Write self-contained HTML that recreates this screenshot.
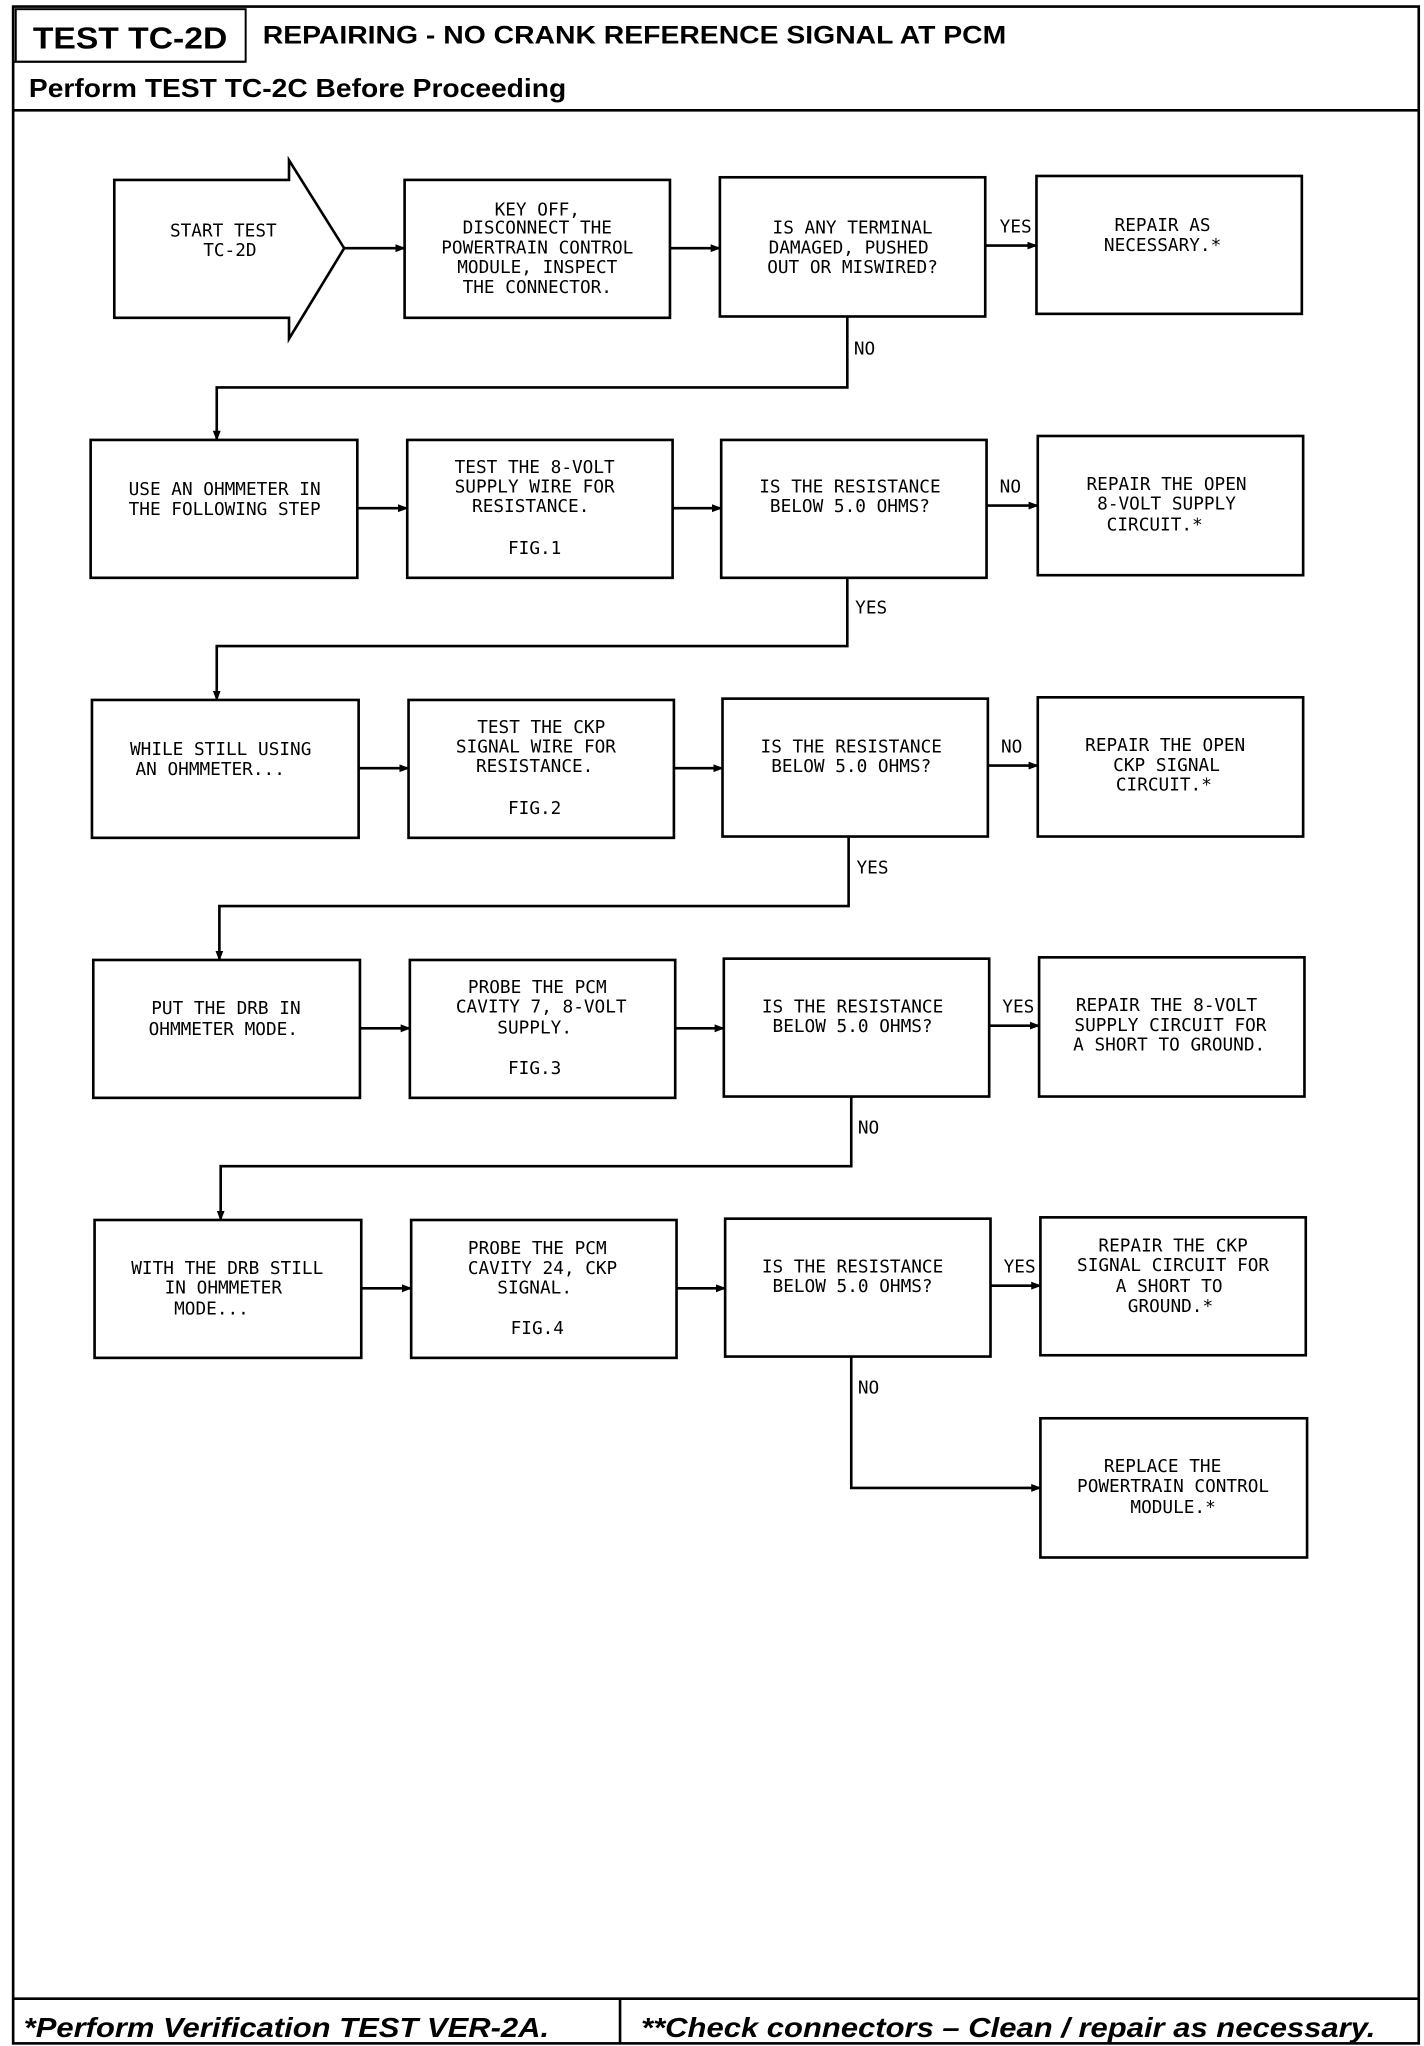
<!DOCTYPE html>
<html><head><meta charset="utf-8"><style>
html,body{margin:0;padding:0;background:#fff}
svg{display:block}
.t{font-family:"DejaVu Sans Mono","Liberation Mono",monospace;font-size:13.5px;fill:#000;text-anchor:middle}
.l{font-family:"DejaVu Sans Mono","Liberation Mono",monospace;font-size:13.5px;fill:#000}
.b{fill:#fff;stroke:#000;stroke-width:2}
.c{fill:none;stroke:#000;stroke-width:2}
.h{font-family:"Liberation Sans",sans-serif;font-weight:bold;fill:#000}
</style></head><body>
<svg width="1424" height="2046" viewBox="0 0 1084 1558" preserveAspectRatio="none" xmlns="http://www.w3.org/2000/svg">
<defs><marker id="a" markerWidth="8" markerHeight="8" refX="7" refY="4" orient="auto" markerUnits="userSpaceOnUse"><path d="M0,1 L8,4 L0,7 z" fill="#000"/></marker></defs>
<rect x="10" y="5" width="1070" height="1551" fill="none" stroke="#000" stroke-width="2"/>
<rect x="12" y="7" width="175" height="40" fill="none" stroke="#000" stroke-width="1.5"/>
<line x1="10" y1="47" x2="187" y2="47" stroke="#000" stroke-width="1.5"/>
<text class="h" x="25" y="37" font-size="23" textLength="148" lengthAdjust="spacingAndGlyphs">TEST TC-2D</text>
<text class="h" x="200" y="33" font-size="19" textLength="566" lengthAdjust="spacingAndGlyphs">REPAIRING - NO CRANK REFERENCE SIGNAL AT PCM</text>
<text class="h" x="22" y="74" font-size="20" textLength="409" lengthAdjust="spacingAndGlyphs">Perform TEST TC-2C Before Proceeding</text>
<line x1="10" y1="84" x2="1080" y2="84" stroke="#000" stroke-width="2"/>
<line x1="10" y1="1522" x2="1080" y2="1522" stroke="#000" stroke-width="2"/>
<line x1="472" y1="1522" x2="472" y2="1556" stroke="#000" stroke-width="2"/>
<text class="h" x="18" y="1551" font-size="21" font-style="italic" textLength="400" lengthAdjust="spacingAndGlyphs">*Perform Verification TEST VER-2A.</text>
<text class="h" x="488" y="1551" font-size="21" font-style="italic" textLength="559" lengthAdjust="spacingAndGlyphs">**Check connectors – Clean / repair as necessary.</text>

<!-- Row 1 -->
<path class="b" d="M87,137 L220,137 L220,122 L262,189 L220,258 L220,242 L87,242 Z"/>
<text class="t" x="170" y="180">START TEST</text><text class="t" x="175" y="195">TC-2D</text>
<rect class="b" x="308" y="137" width="202" height="105"/>
<text class="t" x="409" y="164">KEY OFF,</text><text class="t" x="409" y="178">DISCONNECT THE</text><text class="t" x="409" y="193">POWERTRAIN CONTROL</text><text class="t" x="409" y="208">MODULE, INSPECT</text><text class="t" x="409" y="223">THE CONNECTOR.</text>
<rect class="b" x="548" y="135" width="202" height="106"/>
<text class="t" x="649" y="178">IS ANY TERMINAL</text><text class="t" x="646" y="193">DAMAGED, PUSHED</text><text class="t" x="649" y="208">OUT OR MISWIRED?</text>
<rect class="b" x="789" y="134" width="202" height="105"/>
<text class="t" x="885" y="176">REPAIR AS</text><text class="t" x="885" y="191">NECESSARY.*</text>
<line class="c" x1="262" y1="189" x2="308" y2="189" marker-end="url(#a)"/>
<line class="c" x1="510" y1="189" x2="548" y2="189" marker-end="url(#a)"/>
<line class="c" x1="750" y1="187" x2="789" y2="187" marker-end="url(#a)"/>
<text class="l" x="761" y="177">YES</text>
<polyline class="c" points="645,241 645,295 165,295 165,335" marker-end="url(#a)"/>
<text class="l" x="650" y="270">NO</text>

<!-- Row 2 -->
<rect class="b" x="69" y="335" width="203" height="105"/>
<text class="t" x="171" y="377">USE AN OHMMETER IN</text><text class="t" x="171" y="392">THE FOLLOWING STEP</text>
<rect class="b" x="310" y="335" width="202" height="105"/>
<text class="t" x="407" y="360">TEST THE 8-VOLT</text><text class="t" x="407" y="375">SUPPLY WIRE FOR</text><text class="t" x="404" y="390">RESISTANCE.</text><text class="t" x="407" y="422">FIG.1</text>
<rect class="b" x="549" y="335" width="202" height="105"/>
<text class="t" x="647" y="375">IS THE RESISTANCE</text><text class="t" x="647" y="390">BELOW 5.0 OHMS?</text>
<rect class="b" x="790" y="332" width="202" height="106"/>
<text class="t" x="888" y="373">REPAIR THE OPEN</text><text class="t" x="888" y="388">8-VOLT SUPPLY</text><text class="t" x="879" y="404">CIRCUIT.*</text>
<line class="c" x1="272" y1="387" x2="310" y2="387" marker-end="url(#a)"/>
<line class="c" x1="512" y1="387" x2="549" y2="387" marker-end="url(#a)"/>
<line class="c" x1="751" y1="385" x2="790" y2="385" marker-end="url(#a)"/>
<text class="l" x="761" y="375">NO</text>
<polyline class="c" points="645,440 645,492 165,492 165,533" marker-end="url(#a)"/>
<text class="l" x="651" y="467">YES</text>

<!-- Row 3 -->
<rect class="b" x="70" y="533" width="203" height="105"/>
<text class="t" x="168" y="575">WHILE STILL USING</text><text class="t" x="160" y="590">AN OHMMETER...</text>
<rect class="b" x="311" y="533" width="202" height="105"/>
<text class="t" x="412" y="558">TEST THE CKP</text><text class="t" x="408" y="573">SIGNAL WIRE FOR</text><text class="t" x="407" y="588">RESISTANCE.</text><text class="t" x="407" y="620">FIG.2</text>
<rect class="b" x="550" y="532" width="202" height="105"/>
<text class="t" x="648" y="573">IS THE RESISTANCE</text><text class="t" x="648" y="588">BELOW 5.0 OHMS?</text>
<rect class="b" x="790" y="531" width="202" height="106"/>
<text class="t" x="887" y="572">REPAIR THE OPEN</text><text class="t" x="888" y="587">CKP SIGNAL</text><text class="t" x="886" y="602">CIRCUIT.*</text>
<line class="c" x1="273" y1="585" x2="311" y2="585" marker-end="url(#a)"/>
<line class="c" x1="513" y1="585" x2="550" y2="585" marker-end="url(#a)"/>
<line class="c" x1="752" y1="583" x2="790" y2="583" marker-end="url(#a)"/>
<text class="l" x="762" y="573">NO</text>
<polyline class="c" points="646,637 646,690 167,690 167,731" marker-end="url(#a)"/>
<text class="l" x="652" y="665">YES</text>

<!-- Row 4 -->
<rect class="b" x="71" y="731" width="203" height="105"/>
<text class="t" x="172" y="772">PUT THE DRB IN</text><text class="t" x="170" y="788">OHMMETER MODE.</text>
<rect class="b" x="312" y="731" width="202" height="105"/>
<text class="t" x="409" y="756">PROBE THE PCM</text><text class="t" x="412" y="771">CAVITY 7, 8-VOLT</text><text class="t" x="407" y="787">SUPPLY.</text><text class="t" x="407" y="818">FIG.3</text>
<rect class="b" x="551" y="730" width="202" height="105"/>
<text class="t" x="649" y="771">IS THE RESISTANCE</text><text class="t" x="649" y="786">BELOW 5.0 OHMS?</text>
<rect class="b" x="791" y="729" width="202" height="106"/>
<text class="t" x="888" y="770">REPAIR THE 8-VOLT</text><text class="t" x="891" y="785">SUPPLY CIRCUIT FOR</text><text class="t" x="890" y="800">A SHORT TO GROUND.</text>
<line class="c" x1="274" y1="783" x2="312" y2="783" marker-end="url(#a)"/>
<line class="c" x1="514" y1="783" x2="551" y2="783" marker-end="url(#a)"/>
<line class="c" x1="753" y1="781" x2="791" y2="781" marker-end="url(#a)"/>
<text class="l" x="763" y="771">YES</text>
<polyline class="c" points="648,835 648,888 168,888 168,929" marker-end="url(#a)"/>
<text class="l" x="653" y="863">NO</text>

<!-- Row 5 -->
<rect class="b" x="72" y="929" width="203" height="105"/>
<text class="t" x="173" y="970">WITH THE DRB STILL</text><text class="t" x="170" y="985">IN OHMMETER</text><text class="t" x="161" y="1001">MODE...</text>
<rect class="b" x="313" y="929" width="202" height="105"/>
<text class="t" x="409" y="955">PROBE THE PCM</text><text class="t" x="413" y="970">CAVITY 24, CKP</text><text class="t" x="407" y="985">SIGNAL.</text><text class="t" x="409" y="1016">FIG.4</text>
<rect class="b" x="552" y="928" width="202" height="105"/>
<text class="t" x="649" y="969">IS THE RESISTANCE</text><text class="t" x="649" y="984">BELOW 5.0 OHMS?</text>
<rect class="b" x="792" y="927" width="202" height="105"/>
<text class="t" x="893" y="953">REPAIR THE CKP</text><text class="t" x="893" y="968">SIGNAL CIRCUIT FOR</text><text class="t" x="890" y="984">A SHORT TO</text><text class="t" x="891" y="999">GROUND.*</text>
<line class="c" x1="275" y1="981" x2="313" y2="981" marker-end="url(#a)"/>
<line class="c" x1="515" y1="981" x2="552" y2="981" marker-end="url(#a)"/>
<line class="c" x1="754" y1="979" x2="792" y2="979" marker-end="url(#a)"/>
<text class="l" x="764" y="969">YES</text>
<polyline class="c" points="648,1033 648,1133 792,1133" marker-end="url(#a)"/>
<text class="l" x="653" y="1061">NO</text>
<rect class="b" x="792" y="1080" width="203" height="106"/>
<text class="t" x="885" y="1121">REPLACE THE</text><text class="t" x="893" y="1136">POWERTRAIN CONTROL</text><text class="t" x="893" y="1152">MODULE.*</text>
</svg>
</body></html>
